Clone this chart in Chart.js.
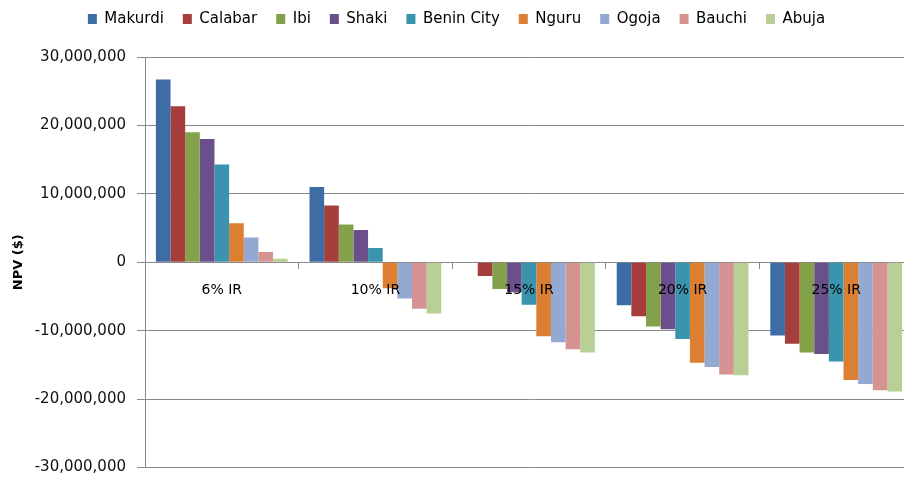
<!DOCTYPE html>
<html><head><meta charset="utf-8">
<script src="https://cdn.jsdelivr.net/npm/chart.js@4/dist/chart.umd.min.js"></script>
<style>html,body{margin:0;padding:0;overflow:hidden;background:#fff}#wrap{width:920px;height:478px;position:relative}</style>
</head><body><div id="wrap"><canvas id="c"></canvas></div>
<script>
const categories = ['6% IR', '10% IR', '15% IR', '20% IR', '25% IR'];
const seriesNames = ['Makurdi', 'Calabar', 'Ibi', 'Shaki', 'Benin City', 'Nguru', 'Ogoja', 'Bauchi', 'Abuja'];
const makurdi   = [26700000, 11000000,         0,  -6300000, -10700000];
const calabar   = [22800000,  8300000,  -2000000,  -7900000, -11900000];
const ibi       = [19000000,  5500000,  -3900000,  -9400000, -13200000];
const shaki     = [18000000,  4700000,  -4400000,  -9800000, -13400000];
const beninCity = [14300000,  2100000,  -6200000, -11200000, -14500000];
const nguru     = [ 5700000, -3800000, -10800000, -14700000, -17200000];
const ogoja     = [ 3600000, -5300000, -11700000, -15300000, -17800000];
const bauchi    = [ 1500000, -6800000, -12700000, -16400000, -18700000];
const abuja     = [  500000, -7500000, -13200000, -16500000, -18900000];
const yMin = -30000000, yMax = 30000000, yStep = 10000000;

const seriesValues = [makurdi, calabar, ibi, shaki, beninCity, nguru, ogoja, bauchi, abuja];
const palette = ['#3E6CA5', '#A63E3B', '#83A04A', '#6A4F8B', '#3A94AE', '#DC7F33', '#93A9D2', '#D59392', '#B8CF96'];

const layoutFix = {
  id: 'layoutFix',
  beforeLayout(chart) {
    const lg = chart.legend;
    if (lg && !lg._patched) {
      const f = lg.fit;
      lg.fit = function () { f.call(this); this.height = 57; };
      lg._patched = true;
    }
  },
  afterLayout(chart) {
    const lg = chart.legend;
    if (lg) { lg.top = -7.5; lg.bottom = lg.top + lg.height; }
  }
};

const gridColor = '#8a8a8a';
new Chart(document.getElementById('c'), {
  type: 'bar',
  data: {
    labels: categories,
    datasets: seriesNames.map((n, i) => ({
      label: n,
      data: seriesValues[i],
      backgroundColor: palette[i],
      borderWidth: 0,
      categoryPercentage: 0.858,
      barPercentage: 1
    }))
  },
  plugins: [layoutFix],
  options: {
    responsive: true,
    maintainAspectRatio: false,
    animation: false,
    layout: { padding: { left: 0, right: 7, top: 0, bottom: 10.5 } },
    plugins: {
      tooltip: { enabled: false },
      legend: {
        position: 'top',
        align: 'center',
        labels: {
          font: { family: 'DejaVu Sans', size: 15 },
          color: '#000',
          boxWidth: 9,
          boxHeight: 10,
          padding: 19
        }
      }
    },
    scales: {
      x: {
        type: 'category',
        position: { y: 0 },
        offset: true,
        afterFit(s) { s.height = 0; s.paddingTop = 0; s.paddingBottom = 0; },
        grid: { display: true, drawOnChartArea: false, drawTicks: true, tickLength: 6, color: gridColor, offset: true },
        border: { display: true, color: gridColor, width: 1 },
        ticks: { font: { family: 'DejaVu Sans', size: 14 }, color: '#000', padding: 14, maxRotation: 0, autoSkip: false, z: 1 }
      },
      y: {
        position: 'left',
        min: yMin,
        max: yMax,
        afterFit(s) { s.width = 145; s.paddingTop = 0; s.paddingBottom = 0; },
        grid: { color: gridColor, lineWidth: 1, drawTicks: true, tickLength: 8 },
        border: { display: true, color: gridColor, width: 1 },
        ticks: {
          stepSize: yStep,
          font: { family: 'DejaVu Sans', size: 15 },
          color: '#111',
          padding: 11,
          callback: v => v.toLocaleString('en-US')
        },
        title: {
          display: true,
          text: 'NPV ($)',
          font: { family: 'DejaVu Sans', size: 13, weight: 'bold' },
          color: '#000',
          padding: { top: 11, bottom: 0 }
        }
      }
    }
  }
});
</script>
</body></html>
